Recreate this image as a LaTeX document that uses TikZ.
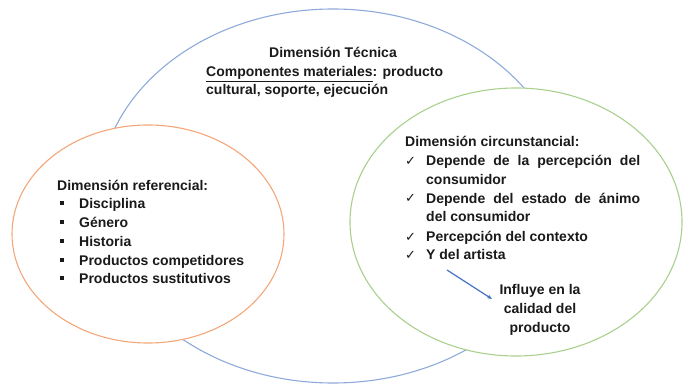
\documentclass[tikz,border=0pt]{standalone}
\usepackage{fontspec}
\setmainfont{Liberation Sans}
\newfontfamily\symfont{DejaVu Sans}
\usetikzlibrary{arrows.meta}
\definecolor{cblue}{HTML}{8EAADB}
\definecolor{corange}{HTML}{F4A77A}
\definecolor{cgreen}{HTML}{A9D08E}
\definecolor{carrow}{HTML}{4472C4}
\definecolor{ctext}{HTML}{1A1A1A}
\tikzset{
  ring/.style={line width=1.1pt},
  txt/.style={inner sep=0pt, font=\fontsize{14}{18.7}\selectfont\bfseries, text=ctext},
  itemtxt/.style={txt, anchor=base west},
  chk/.style={inner sep=0pt, font=\fontsize{13}{14}\symfont, text=ctext, anchor=base west},
  blt/.style={inner sep=0pt, fill=ctext, minimum size=4pt},
}
\begin{document}
\begin{tikzpicture}[x=1pt,y=-1pt]
\useasboundingbox (0,0) rectangle (683,385);
% circles
\draw[ring, cblue] (333,196) ellipse [x radius=234pt, y radius=187pt];
\draw[ring, corange, fill=white] (148,234) ellipse [x radius=136pt, y radius=109pt];
\draw[ring, cgreen, fill=white] (516,222) ellipse [x radius=166pt, y radius=134pt];

% technical dimension
\node[txt, anchor=base] (tec) at (333,58) {Dimensión Técnica};
\node[itemtxt] (comp) at (206,77) {\underline{Componentes materiales}: producto};
\node[itemtxt] (cult) at (206,95) {cultural, soporte, ejecución};

% referential dimension
\node[itemtxt] (ref) at (57,190) {Dimensión referencial:};
\node[itemtxt] (r1) at (79,208) {Disciplina};
\node[itemtxt] (r2) at (79,227) {Género};
\node[itemtxt] (r3) at (79,246) {Historia};
\node[itemtxt] (r4) at (79,265) {Productos competidores};
\node[itemtxt] (r5) at (79,283) {Productos sustitutivos};
\node[blt] (b1) at (62,203) {};
\node[blt] (b2) at (62,222) {};
\node[blt] (b3) at (62,241) {};
\node[blt] (b4) at (62,260) {};
\node[blt] (b5) at (62,278) {};

% circumstantial dimension
\node[itemtxt] (circ) at (405,147) {Dimensión circunstancial:};
\node[itemtxt, align=left] (c1) at (426,184.7) {\makebox[214pt][s]{Depende de la percepción del}\\consumidor};
\node[itemtxt, align=left] (c2) at (426,221.7) {\makebox[214pt][s]{Depende del estado de ánimo}\\del consumidor};
\node[itemtxt] (c3) at (426,241) {Percepción del contexto};
\node[itemtxt] (c4) at (426,259) {Y del artista};
\node[chk] (k1) at (405,166) {✓};
\node[chk] (k2) at (405,203) {✓};
\node[chk] (k3) at (405,241) {✓};
\node[chk] (k4) at (405,259) {✓};

\node[txt, align=center, anchor=base] (infl) at (540,332) {Influye en la\\calidad del\\producto};
\coordinate (as) at (447,270);
\coordinate (ae) at (492,299);
\draw[carrow, line width=1.2pt, -{Stealth[length=5pt,width=4pt]}] (as) -- (ae);
\end{tikzpicture}
\end{document}
